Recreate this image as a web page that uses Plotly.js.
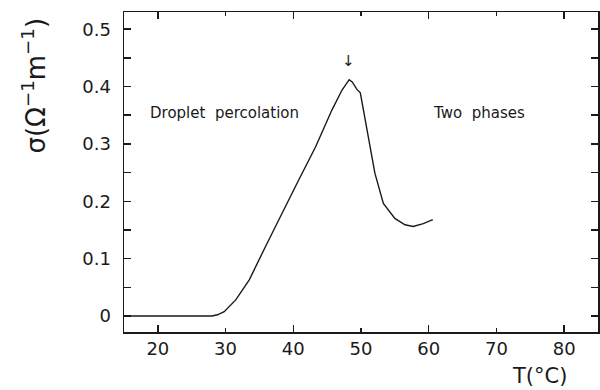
<!DOCTYPE html>
<html><head><meta charset="utf-8">
<script src="https://cdn.plot.ly/plotly-3.0.1.min.js"></script>
<style>body{margin:0;background:#fff}#chart{width:600px;height:390px}</style>
</head><body><div id="chart"></div>
<script>
// Temperature (°C)
var temperature = [15, 20, 26.1, 28.0, 28.8, 29.8, 31.5, 33.5, 35.9, 38.3, 40.8, 43.3, 45.7, 47.2, 48.25, 48.7, 49.4, 49.9, 50.35, 51.1, 52.05, 53.3, 55.0, 56.5, 57.7, 59.2, 60.6];
// Conductivity sigma (Ohm^-1 m^-1)
var sigma = [0, 0, 0, 0, 0.002, 0.0075, 0.028, 0.063, 0.121, 0.179, 0.237, 0.295, 0.359, 0.394, 0.412, 0.408, 0.395, 0.389, 0.359, 0.307, 0.249, 0.196, 0.170, 0.159, 0.156, 0.161, 0.168];
var xTickVals = [20, 30, 40, 50, 60, 70, 80];
var xLongTickVals = [20, 40, 60, 80];
var yTickVals = [0, 0.1, 0.2, 0.3, 0.4, 0.5];
var yTickText = ['0', '0.1', '0.2', '0.3', '0.4', '0.5'];

var font = 'DejaVu Sans, sans-serif';
var ink = '#1a1a1a';
var trace = {
  x: temperature, y: sigma, type: 'scatter', mode: 'lines',
  line: {color: ink, width: 1.4},
  hoverinfo: 'none', showlegend: false
};
var ghost = {
  x: temperature, y: sigma, type: 'scatter', mode: 'lines', xaxis: 'x2',
  line: {color: 'rgba(0,0,0,0)', width: 0}, hoverinfo: 'none', showlegend: false
};
var layout = {
  width: 600, height: 390,
  margin: {l: 124, r: 2, t: 12, b: 58},
  paper_bgcolor: '#fff', plot_bgcolor: '#fff',
  font: {family: font, color: ink},
  xaxis: {
    range: [15, 85], tickmode: 'array', tickvals: xTickVals,
    ticks: 'inside', ticklen: 4, tickwidth: 1.5, tickcolor: ink,
    showline: true, linecolor: ink, linewidth: 1.5, mirror: 'allticks',
    showgrid: false, zeroline: false,
    tickfont: {family: font, size: 18, color: ink}
  },
  xaxis2: {
    range: [15, 85], overlaying: 'x', side: 'bottom', tickmode: 'array', tickvals: xLongTickVals,
    ticks: 'inside', ticklen: 7, tickwidth: 1.5, tickcolor: ink,
    showline: false, mirror: 'allticks', showticklabels: false,
    showgrid: false, zeroline: false
  },
  yaxis: {
    range: [-0.028, 0.53], tickmode: 'array', tickvals: yTickVals, ticktext: yTickText,
    ticks: 'inside', ticklen: 7, tickwidth: 1.5, tickcolor: ink,
    minor: {dtick: 0.05, ticks: 'inside', ticklen: 4, tickwidth: 1.5, tickcolor: ink, showgrid: false},
    showline: true, linecolor: ink, linewidth: 1.5, mirror: 'allticks',
    showgrid: false, zeroline: false, ticklabelstandoff: 8,
    tickfont: {family: font, size: 18, color: ink}
  },
  annotations: [
    {text: 'σ(Ω<sup>−1</sup>m<sup>−1</sup>)', xref: 'paper', yref: 'paper', x: -0.19, y: 0.77,
     xanchor: 'center', yanchor: 'middle',
     textangle: -90, showarrow: false, font: {family: font, size: 26, color: ink}},
    {text: 'T(°C)', xref: 'paper', yref: 'paper', x: 0.876, y: -0.1375,
     xanchor: 'center', yanchor: 'middle',
     showarrow: false, font: {family: font, size: 21, color: ink}},
    {text: 'Droplet  percolation', xref: 'x', yref: 'y', x: 18.5, y: 0.354, xanchor: 'left',
     showarrow: false, font: {family: font, size: 15, color: ink}},
    {text: 'Two  phases', xref: 'x', yref: 'y', x: 60.3, y: 0.354, xanchor: 'left',
     showarrow: false, font: {family: font, size: 15, color: ink}},
    {text: '↓', xref: 'x', yref: 'y', x: 48.2, y: 0.444,
     showarrow: false, font: {family: font, size: 15, color: ink}}
  ]
};
Plotly.newPlot('chart', [trace, ghost], layout, {staticPlot: true, displayModeBar: false});
</script></body></html>
